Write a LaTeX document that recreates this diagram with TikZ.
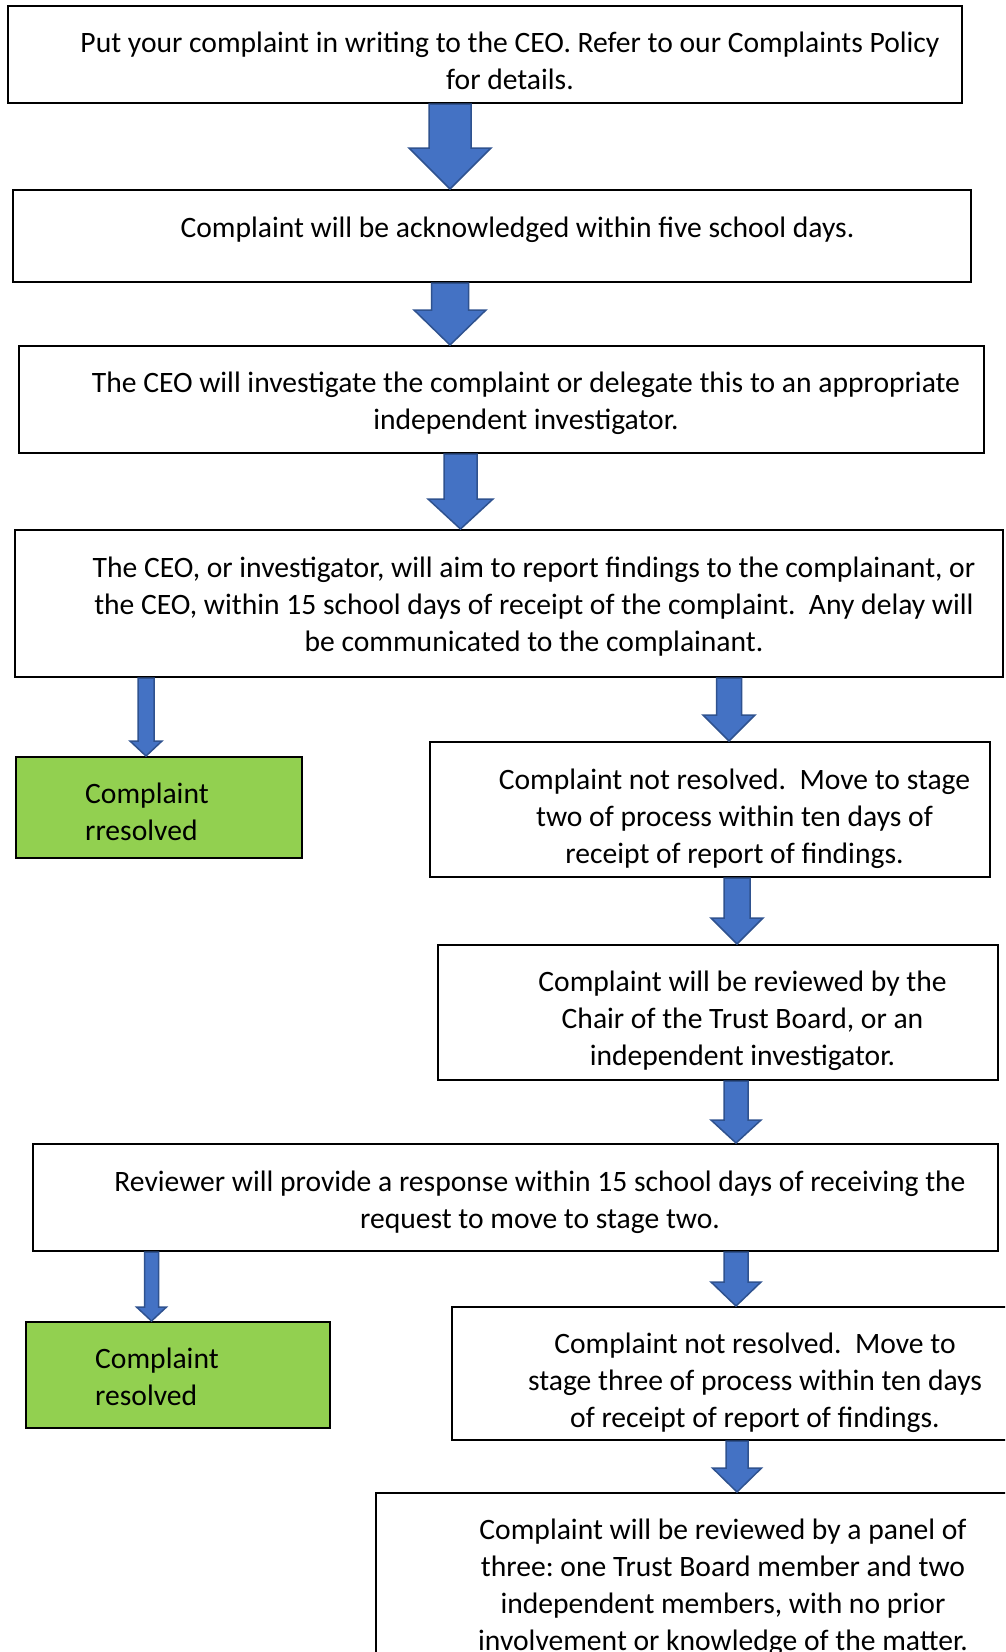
\documentclass[tikz,border=0pt]{standalone}
\usepackage{fontspec}
\setmainfont{Carlito}
\usetikzlibrary{calc}
\frenchspacing
\definecolor{arrowblue}{HTML}{4472C4}
\definecolor{arrowedge}{HTML}{2F528F}
\definecolor{okgreen}{HTML}{92D050}
\tikzset{
  box/.style={draw=black, line width=2pt, fill=white, rectangle, inner sep=0pt},
  greenbox/.style={box, fill=okgreen},
  txt/.style={font=\fontsize{29.6}{37}\selectfont, align=center, inner sep=0pt, anchor=north,
    execute at begin node=\strut, execute at end node=\strut},
  ltxt/.style={txt, align=left, anchor=north west},
  barrow/.style={fill=arrowblue, draw=arrowedge, line width=1.5pt, line join=miter}
}
% #1 x, #2 from anchor, #3 to anchor, #4 shaft half width, #5 head half width, #6 head length
\newcommand\blockarrow[6]{%
  \filldraw[barrow] let \p1=(#1,0 |- #2), \p2=(#1,0 |- #3) in
   (\x1-#4pt,\y1) -- (\x1+#4pt,\y1) -- (\x1+#4pt,\y2+#6pt) -- (\x1+#5pt,\y2+#6pt)
   -- (\x2,\y2) -- (\x1-#5pt,\y2+#6pt) -- (\x1-#4pt,\y2+#6pt) -- cycle;}
\begin{document}
\begin{tikzpicture}[x=1pt,y=-1pt]
\useasboundingbox (0,0) rectangle (1005,1652);
\fill[white] (0,0) rectangle (1005,1652);
\clip (0,0) rectangle (1005,1652);

% boxes
\node[box, minimum width=954pt, minimum height=97pt] (b1) at (485,54.5) {};
\node[box, minimum width=958pt, minimum height=92pt] (b2) at (492,236) {};
\node[box, minimum width=965pt, minimum height=107pt] (b3) at (501.5,399.5) {};
\node[box, minimum width=988pt, minimum height=147pt] (b4) at (509,603.5) {};
\node[greenbox, minimum width=286pt, minimum height=101pt] (g1) at (159,807.5) {};
\node[box, minimum width=560pt, minimum height=135pt] (b5) at (710,809.5) {};
\node[box, minimum width=560pt, minimum height=135pt] (b6) at (718,1012.5) {};
\node[box, minimum width=965pt, minimum height=107pt] (b7) at (515.5,1197.5) {};
\node[greenbox, minimum width=304pt, minimum height=106pt] (g2) at (178,1375) {};
\node[box, minimum width=558pt, minimum height=133pt] (b8) at (731,1373.5) {};
\node[box, minimum width=634pt, minimum height=207pt] (b9) at (693,1596.5) {};

% texts
\node[txt] (t1) at (510,32) {Put your complaint in writing to the CEO. Refer to our Complaints Policy\\for details.};
\node[txt] (t2) at (517.5,211) {Complaint will be acknowledged within five school days.};
\node[txt] (t3) at (526,372) {The CEO will investigate the complaint or delegate this to an appropriate\\independent investigator.};
\node[txt] (t4) at (534,557) {The CEO, or investigator, will aim to report findings to the complainant, or\\the CEO, within 15 school days of receipt of the complaint.\ \ Any delay will\\be communicated to the complainant.};
\node[ltxt] (tg1) at (85,783) {Complaint\\rresolved};
\node[txt] (t5) at (734.5,769) {Complaint not resolved.\ \ Move to stage\\two of process within ten days of\\receipt of report of findings.};
\node[txt] (t6) at (742.5,971) {Complaint will be reviewed by the\\Chair of the Trust Board, or an\\independent investigator.};
\node[txt] (t7) at (540,1171) {Reviewer will provide a response within 15 school days of receiving the\\request to move to stage two.};
\node[ltxt] (tg2) at (95,1348) {Complaint\\resolved};
\node[txt] (t8) at (755,1333) {Complaint not resolved.\ \ Move to\\stage three of process within ten days\\of receipt of report of findings.};
\node[txt] (t9) at (723,1519) {Complaint will be reviewed by a panel of\\three: one Trust Board member and two\\independent members, with no prior\\involvement or knowledge of the matter.};

% arrows
\blockarrow{450}{b1.south}{b2.north}{21}{41}{41}
\blockarrow{450}{b2.south}{b3.north}{18.5}{36}{35}
\blockarrow{460.5}{b3.south}{b4.north}{16.5}{32.5}{30}
\blockarrow{146}{b4.south}{g1.north}{8}{16}{15}
\blockarrow{729}{b4.south}{b5.north}{12.5}{26}{26}
\blockarrow{737}{b5.south}{b6.north}{13}{26}{26}
\blockarrow{736}{b6.south}{b7.north}{12}{25}{23}
\blockarrow{151.5}{b7.south}{g2.north}{7}{15}{14}
\blockarrow{736}{b7.south}{b8.north}{12}{25}{24}
\blockarrow{737}{b8.south}{b9.north}{11}{24.5}{24}
\end{tikzpicture}
\end{document}
